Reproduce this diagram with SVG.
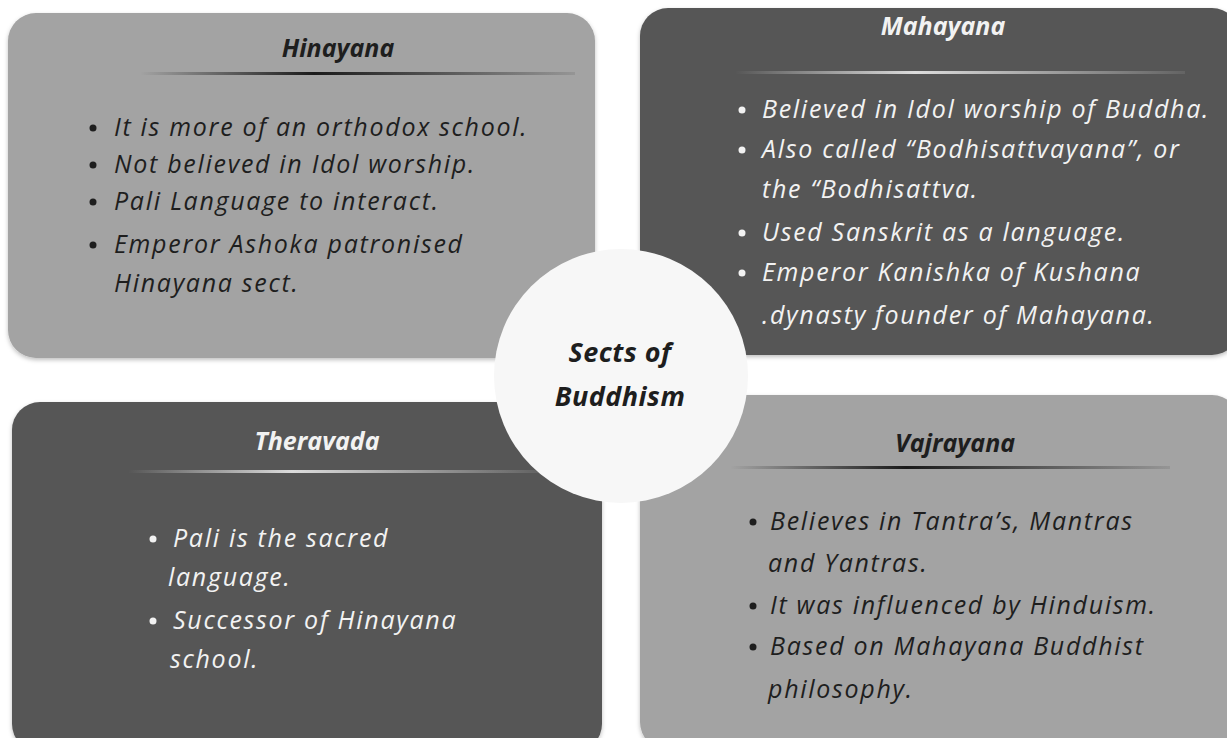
<svg xmlns="http://www.w3.org/2000/svg" width="1227" height="738" viewBox="0 0 1227 738">
<style>
.light{fill:#a3a3a3}
.dark{fill:#575757}
.t{font-family:"Open Sans","Liberation Sans",sans-serif;font-style:italic}
.title{font-size:25px;font-weight:bold}
.ctr{font-size:27px;font-weight:bold;letter-spacing:0.5px}
.body{font-size:25px;letter-spacing:1.7px}
.dk{fill:#1e1e1e}
.lt{fill:#f2f2f2}
</style>
<defs>
<linearGradient id="lnDark" x1="0" x2="1" y1="0" y2="0">
<stop offset="0" stop-color="#1a1a1a" stop-opacity="0"/>
<stop offset="0.4" stop-color="#1a1a1a"/>
<stop offset="1" stop-color="#1a1a1a" stop-opacity="0.1"/>
</linearGradient>
<linearGradient id="lnLight" x1="0" x2="1" y1="0" y2="0">
<stop offset="0" stop-color="#dcdcdc" stop-opacity="0"/>
<stop offset="0.4" stop-color="#dcdcdc"/>
<stop offset="1" stop-color="#dcdcdc" stop-opacity="0.1"/>
</linearGradient>
<filter id="sh" x="-5%" y="-5%" width="110%" height="110%">
<feDropShadow dx="0" dy="2" stdDeviation="2" flood-color="#000" flood-opacity="0.25"/>
</filter>
</defs>
<rect width="1227" height="738" fill="#ffffff"/>

<g id="hinayana">
<rect class="light" x="8" y="13" width="587" height="345" rx="28" filter="url(#sh)"/>
<text class="t title dk" x="338" y="57" text-anchor="middle">Hinayana</text>
<rect x="140" y="72" width="435" height="3" fill="url(#lnDark)"/>
<g class="dk">
<circle cx="93" cy="128" r="3.5"/><circle cx="93" cy="165" r="3.5"/><circle cx="93" cy="202" r="3.5"/><circle cx="93" cy="245" r="3.5"/>
</g>
<g class="t body dk">
<text x="114" y="136">It is more of an orthodox school.</text>
<text x="114" y="173">Not believed in Idol worship.</text>
<text x="114" y="210">Pali Language to interact.</text>
<text x="114" y="253">Emperor Ashoka patronised</text>
<text x="114" y="292">Hinayana sect.</text>
</g>
</g>

<g id="mahayana">
<rect class="dark" x="640" y="8" width="600" height="347" rx="28" filter="url(#sh)"/>
<text class="t title lt" x="943" y="35" text-anchor="middle">Mahayana</text>
<rect x="735" y="71" width="450" height="3" fill="url(#lnLight)"/>
<g class="lt">
<circle cx="742" cy="110" r="3.5"/><circle cx="742" cy="150" r="3.5"/><circle cx="742" cy="233" r="3.5"/><circle cx="742" cy="273" r="3.5"/>
</g>
<g class="t body lt">
<text x="762" y="118">Believed in Idol worship of Buddha.</text>
<text x="762" y="158">Also called “Bodhisattvayana”, or</text>
<text x="762" y="198">the “Bodhisattva.</text>
<text x="762" y="241">Used Sanskrit as a language.</text>
<text x="762" y="281">Emperor Kanishka of Kushana</text>
<text x="762" y="324">.dynasty founder of Mahayana.</text>
</g>
</g>

<g id="theravada">
<rect class="dark" x="12" y="402" width="590" height="350" rx="28" filter="url(#sh)"/>
<text class="t title lt" x="317" y="450" text-anchor="middle">Theravada</text>
<rect x="128" y="470" width="410" height="3" fill="url(#lnLight)"/>
<g class="lt">
<circle cx="153" cy="539" r="3.5"/><circle cx="153" cy="621" r="3.5"/>
</g>
<g class="t body lt">
<text x="173" y="547">Pali is the sacred</text>
<text x="168" y="586">language.</text>
<text x="173" y="629">Successor of Hinayana</text>
<text x="170" y="668">school.</text>
</g>
</g>

<g id="vajrayana">
<rect class="light" x="640" y="395" width="600" height="355" rx="28" filter="url(#sh)"/>
<text class="t title dk" x="955" y="452" text-anchor="middle">Vajrayana</text>
<rect x="730" y="466" width="440" height="3" fill="url(#lnDark)"/>
<g class="dk">
<circle cx="753" cy="522" r="3.5"/><circle cx="753" cy="606" r="3.5"/><circle cx="753" cy="647" r="3.5"/>
</g>
<g class="t body dk">
<text x="770" y="530">Believes in Tantra’s, Mantras</text>
<text x="768" y="572">and Yantras.</text>
<text x="770" y="614">It was influenced by Hinduism.</text>
<text x="770" y="655">Based on Mahayana Buddhist</text>
<text x="768" y="698">philosophy.</text>
</g>
</g>

<g id="center">
<circle cx="621" cy="376" r="127" fill="#f7f7f7"/>
<text class="t ctr dk" x="620" y="362" text-anchor="middle">Sects of</text>
<text class="t ctr dk" x="620" y="406" text-anchor="middle">Buddhism</text>
</g>

<g id="connectors"></g>
</svg>
